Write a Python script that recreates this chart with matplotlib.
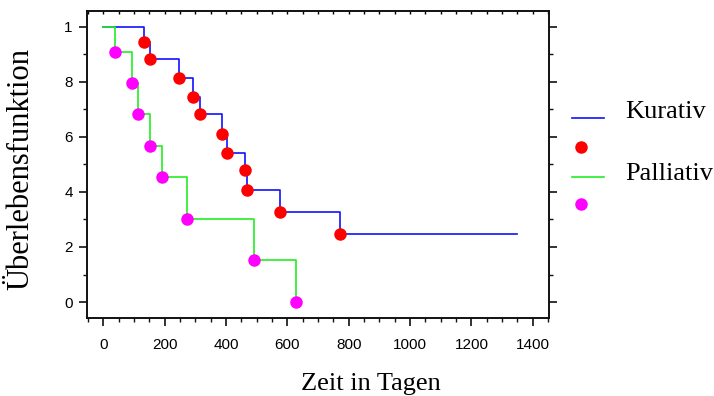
import matplotlib
matplotlib.use("Agg")
import matplotlib.pyplot as plt
from matplotlib.lines import Line2D
from matplotlib.ticker import FixedLocator, FixedFormatter, MultipleLocator

# Kurativ (Kaplan-Meier)
kur_t = [0, 132, 153, 247, 294, 314, 388, 403, 461, 470, 576, 773]
kur_s = [1.0, 0.944, 0.883, 0.815, 0.745, 0.682, 0.611, 0.540, 0.478, 0.407, 0.328, 0.246]
kur_end = 1348
# Palliativ
pal_t = [0, 37, 94, 112, 151, 193, 273, 491, 628]
pal_s = [1.0, 0.909, 0.795, 0.682, 0.568, 0.455, 0.303, 0.152, 0.0]

ytick_vals = [0, 0.2, 0.4, 0.6, 0.8, 1.0]
ytick_labels = ["0", "2", "4", "6", "8", "1"]
xtick_vals = [0, 200, 400, 600, 800, 1000, 1200, 1400]

BLUE = "#1010ff"
GREEN = "#22ee22"
RED = "#ff0000"
MAG = "#ff00ff"

W, H = 714, 396
fig = plt.figure(figsize=(W / 100, H / 100), dpi=100)
ax = fig.add_axes([87.3 / W, 1 - 318.3 / H, (549.3 - 87.3) / W, (318.3 - 10.7) / H])

# step lines
ax.step(kur_t + [kur_end], kur_s + [kur_s[-1]], where="post", color=BLUE, lw=1.2, zorder=2)
ax.step(pal_t, pal_s, where="post", color=GREEN, lw=1.2, zorder=3)
ax.plot(kur_t[1:], kur_s[1:], "o", color=RED, ms=9, mec="none", zorder=4)
ax.plot(pal_t[1:], pal_s[1:], "o", color=MAG, ms=9, mec="none", zorder=4)

ax.set_xlim(-52, 1454)
ax.set_ylim(-0.059, 1.058)

ax.xaxis.set_major_locator(FixedLocator(xtick_vals))
ax.xaxis.set_minor_locator(MultipleLocator(50))
ax.yaxis.set_major_locator(FixedLocator(ytick_vals))
ax.yaxis.set_major_formatter(FixedFormatter(ytick_labels))
ax.yaxis.set_minor_locator(MultipleLocator(0.1))

for sp in ax.spines.values():
    sp.set_linewidth(1.4)
    sp.set_color("#111111")

ax.tick_params(axis="both", which="major", direction="out", length=5.5, width=1.2,
               labelsize=11, color="#111111")
ax.tick_params(axis="x", which="major", pad=9)
ax.tick_params(axis="y", which="major", pad=5)
ax.tick_params(axis="both", which="minor", direction="out", length=3, width=1.0, color="#111111")
ax.tick_params(axis="y", which="both", right=True)
ax.tick_params(axis="x", which="both", top=False)
for lab in ax.get_xticklabels() + ax.get_yticklabels():
    lab.set_fontfamily("Liberation Sans")

# top tiny inward ticks
secx = ax.secondary_xaxis("top")
secx.xaxis.set_major_locator(MultipleLocator(50))
secx.tick_params(direction="in", length=2.5, width=1.0, labelsize=0, labeltop=False)
secx.spines["top"].set_visible(False)


def fx(px):
    return px / W


def fy(py):
    return 1 - py / H


# axis titles
fig.text(fx(371), fy(390), "Zeit in Tagen", fontfamily="Liberation Serif", fontsize=19,
         ha="center", va="baseline")
fig.text(fx(20.5), fy(169), "Überlebensfunktion", fontfamily="Liberation Serif", fontsize=22,
         rotation=90, ha="center", va="center")

# legend (manual)
fig.add_artist(Line2D([fx(571.7), fx(604)], [fy(117.7), fy(117.7)], color=BLUE, lw=1.2, transform=fig.transFigure))
fig.add_artist(Line2D([fx(580.7)], [fy(146.7)], marker="o", color=RED, ms=9, mec="none", transform=fig.transFigure))
fig.add_artist(Line2D([fx(571.7), fx(604)], [fy(176.7), fy(176.7)], color=GREEN, lw=1.2, transform=fig.transFigure))
fig.add_artist(Line2D([fx(580.7)], [fy(204.3)], marker="o", color=MAG, ms=9, mec="none", transform=fig.transFigure))
fig.text(fx(625), fy(117.5), "Kurativ", fontfamily="Liberation Serif", fontsize=19, va="baseline", ha="left")
fig.text(fx(625), fy(180), "Palliativ", fontfamily="Liberation Serif", fontsize=19, va="baseline", ha="left")

fig.savefig("out.png", dpi=100)
